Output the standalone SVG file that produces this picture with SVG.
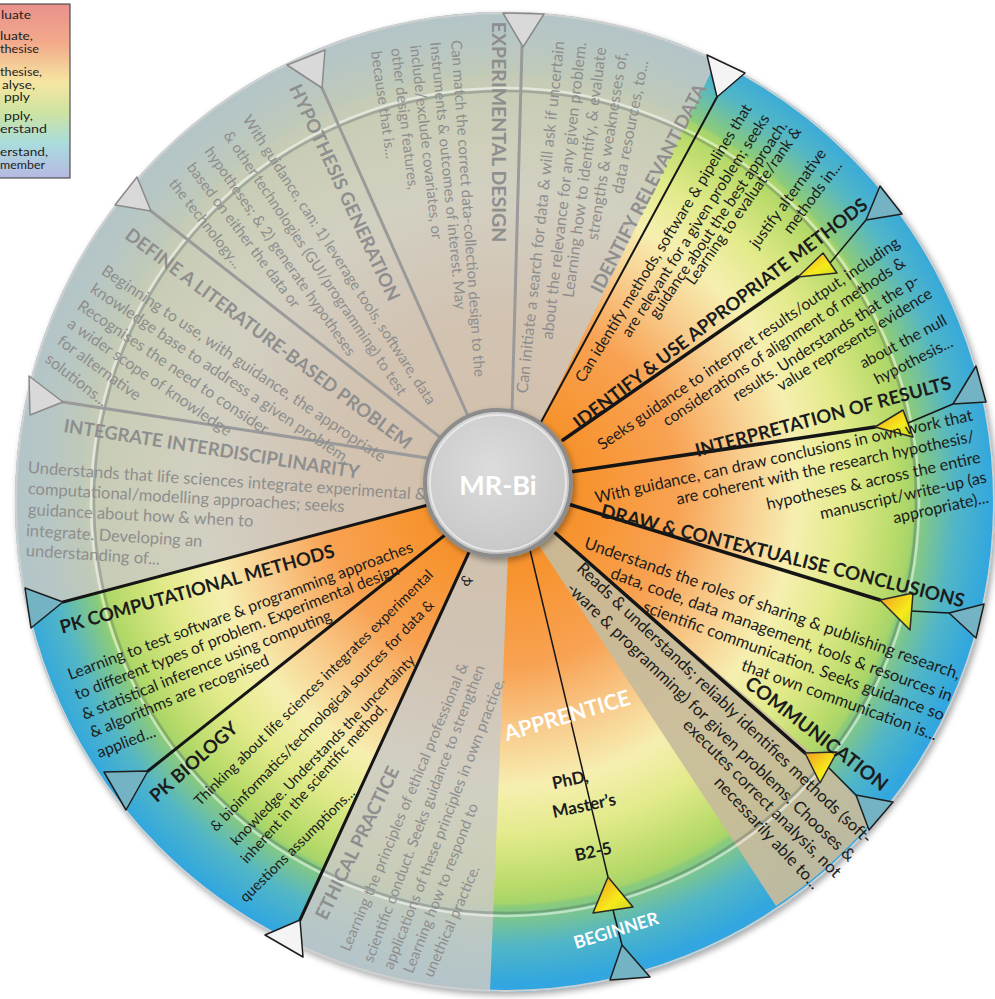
<svg xmlns="http://www.w3.org/2000/svg" width="995" height="999" viewBox="0 0 995 999">
<defs>
<radialGradient id="wheelGrad" gradientUnits="userSpaceOnUse" cx="500" cy="490" r="495">
<stop offset="0" stop-color="#f7932e"/>
<stop offset="0.17" stop-color="#f7932e"/>
<stop offset="0.36" stop-color="#f8a253"/>
<stop offset="0.5" stop-color="#f8cf90"/>
<stop offset="0.6" stop-color="#f6efb0"/>
<stop offset="0.7" stop-color="#e2ea8a"/>
<stop offset="0.8" stop-color="#b9db6a"/>
<stop offset="0.835" stop-color="#a6d46a"/>
<stop offset="0.842" stop-color="#8ccb7a"/>
<stop offset="0.92" stop-color="#52b6c6"/>
<stop offset="1" stop-color="#30a6e0"/>
</radialGradient>
<linearGradient id="legGrad" x1="0" y1="0" x2="0" y2="1">
<stop offset="0" stop-color="#e8918c"/>
<stop offset="0.22" stop-color="#f3a98a"/>
<stop offset="0.45" stop-color="#f6e6a2"/>
<stop offset="0.62" stop-color="#cfe3a0"/>
<stop offset="0.8" stop-color="#a9dcdc"/>
<stop offset="1" stop-color="#b7b9e2"/>
</linearGradient>
<linearGradient id="yelGrad" x1="0" y1="0" x2="1" y2="1">
<stop offset="0" stop-color="#f09a20"/>
<stop offset="0.6" stop-color="#f6ea1c"/>
<stop offset="1" stop-color="#c8d820"/>
</linearGradient>
<radialGradient id="hubGrad" cx="0.45" cy="0.4" r="0.65">
<stop offset="0" stop-color="#dcdcdc"/>
<stop offset="0.85" stop-color="#c9c9c9"/>
<stop offset="1" stop-color="#a8a8a8"/>
</radialGradient>
<filter id="shadow" x="-10%" y="-10%" width="120%" height="120%">
<feDropShadow dx="2" dy="3" stdDeviation="3" flood-color="#000" flood-opacity="0.35"/>
</filter>
</defs>
<style>
.t{font-family:Lato,'Open Sans','DejaVu Sans',sans-serif;dominant-baseline:central;}
.m{text-anchor:middle}.s{text-anchor:start}.e{text-anchor:end}
.dk{fill:#1c1c1c}
.gr{fill:#8e8e8e}
.tb{font-weight:bold;font-size:18.5px}
.wh{fill:#ffffff;font-weight:bold}
.leg{font-family:Lato,'Open Sans',sans-serif;font-size:11.5px;fill:#222}
.gl{stroke:#9a9a9a;stroke-width:3;fill:none;stroke-linecap:round}
.bl{stroke:#151515;stroke-width:3.5;fill:none;stroke-linecap:round}
.th{stroke:#151515;stroke-width:1.5;fill:none}
.tg{fill:#d9d9d9;stroke:#8a8a8a;stroke-width:1.5;stroke-linejoin:round}
.tc{fill:#74b3c4;stroke:#1e1e1e;stroke-width:1.5;stroke-linejoin:round}
.tw{fill:#f4f4f4;stroke:#1e1e1e;stroke-width:1.5;stroke-linejoin:round}
.ty{fill:url(#yelGrad);stroke:#2a2a2a;stroke-width:1.5;stroke-linejoin:round}
</style>

<g id="legend">
<rect x="-5" y="4" width="75" height="174" fill="url(#legGrad)" stroke="#333" stroke-width="1"/>
<text class="leg" x="1" y="19" textLength="30" lengthAdjust="spacingAndGlyphs">luate</text>
<text class="leg" x="0" y="40" textLength="33" lengthAdjust="spacingAndGlyphs">luate,</text>
<text class="leg" x="0" y="53" textLength="39" lengthAdjust="spacingAndGlyphs">thesise</text>
<text class="leg" x="0" y="76" textLength="42" lengthAdjust="spacingAndGlyphs">thesise,</text>
<text class="leg" x="2" y="89" textLength="33" lengthAdjust="spacingAndGlyphs">alyse,</text>
<text class="leg" x="4" y="101" textLength="26" lengthAdjust="spacingAndGlyphs">pply</text>
<text class="leg" x="4" y="120" textLength="29" lengthAdjust="spacingAndGlyphs">pply,</text>
<text class="leg" x="0" y="133" textLength="47" lengthAdjust="spacingAndGlyphs">erstand</text>
<text class="leg" x="0" y="156" textLength="48" lengthAdjust="spacingAndGlyphs">erstand,</text>
<text class="leg" x="0" y="169" textLength="45" lengthAdjust="spacingAndGlyphs">member</text>
</g>

<g id="wheel">
<circle cx="505" cy="502" r="490" fill="url(#wheelGrad)" filter="url(#shadow)"/>
<path id="grey-overlay" d="M498 483 L540 424 L717 60 A490 490 0 0 0 25 600 L63 602 L428 505 Z" fill="#cbc9c5" fill-opacity="0.84"/>
<path id="ethical-overlay" d="M498 483 L470 550 L300 920 L283 940 A490 490 0 0 0 490 992 L508 555 Z" fill="#cbc9c5" fill-opacity="0.86"/>
<path id="tan-overlay" d="M498 483 L553 531 L828 767 L875 818 A490 490 0 0 1 776 906 L546 556 Z" fill="#c7bb9b" fill-opacity="0.93"/>
<circle cx="505" cy="502" r="411" fill="none" stroke="#3c4a50" stroke-opacity="0.28" stroke-width="2.5"/>
<circle cx="505" cy="502" r="414" fill="none" stroke="#ffffff" stroke-opacity="0.5" stroke-width="2.5"/>
<circle cx="505" cy="502" r="489" fill="none" stroke="#d0d0d0" stroke-width="2"/>
</g>

<g id="connectors">
<path class="gl" d="M512 412 L522 47"/>
<path class="gl" d="M468 416 L322 88"/>
<path class="gl" d="M441 438 L151 211"/>
<path class="gl" d="M427 458 L63 402"/>
<path class="th" style="stroke-width:2" d="M540 424 L717 97"/>
<path class="bl" d="M563 440 L798 277"/>
<path class="th" d="M830 263 L866 220"/>
<path class="bl" d="M570 472 L875 427"/>
<path class="th" d="M908 423 L953 404"/>
<path class="bl" d="M568 504 L880 600"/>
<path class="th" d="M911 611 L949 613"/>
<path class="bl" d="M553 531 L805 753"/>
<path class="th" d="M828 767 L856 795"/>
<path class="th" d="M530 550 L608 877"/>
<path class="th" d="M613 910 L622 945"/>
<path class="bl" style="stroke-width:3" d="M470 550 L300 920"/>
<path class="bl" style="stroke-width:3" d="M445 535 L148 771"/>
<path class="bl" style="stroke-width:3" d="M428 505 L63 602"/>
<polygon class="tg" points="503,13 544,14 523,47"/>
<polygon class="tw" points="707,55 745,73 717,97"/>
<polygon class="tg" points="287,65 325,50 322,88"/>
<polygon class="tg" points="137,177 115,205 151,211"/>
<polygon class="tg" points="29,376 30,415 63,402"/>
<polygon class="tc" points="25,588 31,628 63,602"/>
<polygon class="tc" points="104,772 126,810 148,771"/>
<polygon class="tw" points="265,935 303,957 300,920"/>
<polygon class="tc" points="610,980 650,977 622,945"/>
<polygon class="tc" points="902,214 880,186 866,220"/>
<polygon class="tc" points="986,402 976,366 953,404"/>
<polygon class="tc" points="984,604 976,638 949,613"/>
<polygon class="tc" points="893,802 869,830 856,795"/>
<polygon class="ty" points="798,277 837,273 823,253"/>
<polygon class="ty" points="875,427 913,437 903,410"/>
<polygon class="ty" points="880,600 913,593 910,630"/>
<polygon class="ty" points="805,753 837,752 820,783"/>
<polygon class="ty" points="608,877 593,913 633,907"/>
</g>

<g id="node-identify-relevant-data" style="font-size:16px">
<text class="t tb gr m" transform="translate(648 188) rotate(-63)">IDENTIFY RELEVANT DATA</text>
<text class="t gr e" transform="translate(558 41) rotate(-84)">Can initiate a search for data &amp; will ask if uncertain</text>
<text class="t gr e" transform="translate(580 42) rotate(-83.5)">about the relevance for any given problem.</text>
<text class="t gr e" transform="translate(600 47) rotate(-82.5)">Learning how to identify, &amp; evaluate</text>
<text class="t gr e" transform="translate(621 52) rotate(-81)">strengths &amp; weaknesses of,</text>
<text class="t gr e" transform="translate(642 60) rotate(-79)">data resources, to...</text>
</g>

<g id="node-experimental-design" style="font-size:15px">
<text class="t tb gr m" style="font-size:19.5px" transform="translate(499 132) rotate(90)">EXPERIMENTAL DESIGN</text>
<text class="t gr s" transform="translate(457 40) rotate(86)">Can match the correct data-collection design to the</text>
<text class="t gr s" transform="translate(436 42) rotate(84.5)">Instruments &amp; outcomes of interest. May</text>
<text class="t gr s" transform="translate(416 45) rotate(83.5)">include/exclude covariates, or</text>
<text class="t gr s" transform="translate(397 48) rotate(83)">other design features,</text>
<text class="t gr s" transform="translate(377 51) rotate(82)">because that is...</text>
</g>

<g id="node-hypothesis-generation" style="font-size:15px">
<text class="t tb gr s" transform="translate(295 85) rotate(65)">HYPOTHESIS GENERATION</text>
<text class="t gr s" transform="translate(247 116) rotate(57)">With guidance, can: 1) leverage tools, software, data</text>
<text class="t gr s" transform="translate(228 132) rotate(56)">&amp; other technologies (GUI/programming) to test</text>
<text class="t gr s" transform="translate(209 148) rotate(55)">hypotheses; &amp; 2) generate hypotheses</text>
<text class="t gr s" transform="translate(191 164) rotate(53)">based on either the data or</text>
<text class="t gr s" transform="translate(173 180) rotate(52)">the technology...</text>
</g>

<g id="node-define-literature-problem" style="font-size:16px">
<text class="t tb gr s" transform="translate(128 232) rotate(37)">DEFINE A LITERATURE-BASED PROBLEM</text>
<text class="t gr s" transform="translate(104 268) rotate(34)">Beginning to use, with guidance, the appropriate</text>
<text class="t gr s" transform="translate(93 286) rotate(34)">knowledge base to address a given problem.</text>
<text class="t gr s" transform="translate(80 303) rotate(34)">Recognises the need to consider</text>
<text class="t gr s" transform="translate(70 321) rotate(34.5)">a wider scope of knowledge</text>
<text class="t gr s" transform="translate(60 338) rotate(36)">for alternative</text>
<text class="t gr s" transform="translate(48 356) rotate(38)">solutions...</text>
</g>

<g id="node-integrate-interdisciplinarity" style="font-size:16.5px">
<text class="t tb gr s" transform="translate(64 425) rotate(9)">INTEGRATE INTERDISCIPLINARITY</text>
<text class="t gr s" transform="translate(28 467) rotate(3.9)">Understands that life sciences  integrate experimental &amp;</text>
<text class="t gr s" transform="translate(28 488) rotate(3.3)">computational/modelling approaches; seeks</text>
<text class="t gr s" transform="translate(28 509) rotate(3)">guidance about how &amp; when to</text>
<text class="t gr s" transform="translate(26 530) rotate(3.5)">integrate. Developing an</text>
<text class="t gr s" transform="translate(26 550) rotate(3.7)">understanding of...</text>
</g>

<g id="node-pk-computational-methods" style="font-size:15.8px">
<text class="t tb dk s" transform="translate(60 627) rotate(-15.7)">PK COMPUTATIONAL METHODS</text>
<text class="t dk s" transform="translate(68 674) rotate(-20.5)">Learning to test software &amp; programming approaches</text>
<text class="t dk s" transform="translate(75 694) rotate(-21.3)">to different types of problem. Experimental design</text>
<text class="t dk s" transform="translate(82 714) rotate(-22)">&amp; statistical inference using computing</text>
<text class="t dk s" transform="translate(90 732) rotate(-22.5)">&amp; algorithms are recognised</text>
<text class="t dk s" transform="translate(97 752) rotate(-21)">applied...</text>
</g>

<g id="node-pk-biology" style="font-size:14.5px">
<text class="t tb dk s" transform="translate(152 798) rotate(-41.5)">PK BIOLOGY</text>
<text class="t dk e" transform="translate(430 572) rotate(-44.6)">Thinking about life sciences integrates experimental</text>
<text class="t dk e" transform="translate(431 602) rotate(-46)">&amp; bioinformatics/technological sources for data &amp;</text>
<text class="t dk e" transform="translate(412 657) rotate(-46)">knowledge. Understands  the uncertainty</text>
<text class="t dk e" transform="translate(383 705) rotate(-48)">inherent in the scientific method,</text>
<text class="t dk e" transform="translate(352 790) rotate(-44.7)">questions assumptions...</text>
<text class="t dk m" transform="translate(466 580) rotate(-45)">&amp;</text>
</g>

<g id="node-ethical-practice" style="font-size:15px">
<text class="t tb gr s" transform="translate(320 918) rotate(-64)">ETHICAL PRACTICE</text>
<text class="t gr s" transform="translate(344 950) rotate(-67.5)">Learning the principles of ethical professional &amp;</text>
<text class="t gr s" transform="translate(367 961) rotate(-69.2)">scientific conduct. Seeks guidance to strengthen</text>
<text class="t gr s" transform="translate(387 968) rotate(-68.8)">applications of these principles in own practice.</text>
<text class="t gr s" transform="translate(407 972) rotate(-68.7)">Learning how to respond to</text>
<text class="t gr s" transform="translate(427 976) rotate(-66.7)">unethical practice.</text>
</g>

<g id="node-identify-use-methods" style="font-size:15.5px">
<text class="t tb dk m" transform="translate(720 313) rotate(-37.5)">IDENTIFY &amp; USE APPROPRIATE METHODS</text>
<text class="t dk e" transform="translate(747 105) rotate(-58.5)">Can identify methods, software &amp; pipelines that</text>
<text class="t dk e" transform="translate(765 115) rotate(-57.5)">are relevant for a given problem; seeks</text>
<text class="t dk e" transform="translate(783 122) rotate(-56)">guidance about the best approach.</text>
<text class="t dk e" transform="translate(797 128) rotate(-55)">Learning to evaluate/rank &amp;</text>
<text class="t dk e" transform="translate(822 150) rotate(-54)">justify alternative</text>
<text class="t dk e" transform="translate(838 162) rotate(-53)">methods in...</text>
</g>

<g id="node-interpretation-results" style="font-size:15.8px">
<text class="t tb dk m" transform="translate(823 416) rotate(-15)">INTERPRETATION OF RESULTS</text>
<text class="t dk e" transform="translate(897 240) rotate(-34.5)">Seeks guidance to interpret results/output, including</text>
<text class="t dk e" transform="translate(903 260) rotate(-34)">considerations of alignment of methods &amp;</text>
<text class="t dk e" transform="translate(917 277) rotate(-33)">results. Understands that the p-</text>
<text class="t dk e" transform="translate(930 291) rotate(-32)">value represents evidence</text>
<text class="t dk e" transform="translate(945 318) rotate(-28)">about the null</text>
<text class="t dk e" transform="translate(951 340) rotate(-27)">hypothesis...</text>
</g>

<g id="node-draw-conclusions" style="font-size:16.2px">
<text class="t tb dk m" style="font-size:19px" transform="translate(783 555) rotate(14)">DRAW &amp; CONTEXTUALISE CONCLUSIONS</text>
<text class="t dk e" transform="translate(972 414) rotate(-12.4)">With guidance, can draw conclusions in own work that</text>
<text class="t dk e" transform="translate(974 435) rotate(-12)">are coherent with the research hypothesis/</text>
<text class="t dk e" transform="translate(980 456) rotate(-12.5)">hypotheses &amp; across the entire</text>
<text class="t dk e" transform="translate(986 476) rotate(-12.5)">manuscript/write-up (as</text>
<text class="t dk e" transform="translate(988 496) rotate(-12.5)">appropriate)...</text>
</g>

<g id="node-communication" style="font-size:16.5px">
<text class="t tb dk m" style="font-size:19.5px" transform="translate(817 733) rotate(37.6)">COMMUNICATION</text>
<text class="t dk e" transform="translate(960 674) rotate(19.4)">Understands the roles of sharing &amp; publishing research,</text>
<text class="t dk e" transform="translate(952 696) rotate(20)">data, code, data management, tools &amp; resources in</text>
<text class="t dk e" transform="translate(944 715) rotate(20)">scientific communication. Seeks guidance so</text>
<text class="t dk e" transform="translate(937 735) rotate(20)">that own communication is...</text>
</g>

<g id="node-methods-software" style="font-size:16.8px">
<text class="t dk e" transform="translate(870 840) rotate(43.5)">Reads &amp; understands; reliably identifies methods (soft-</text>
<text class="t dk e" transform="translate(853 858) rotate(44)">-ware &amp; programming) for given problems. Chooses &amp;</text>
<text class="t dk e" transform="translate(839 874) rotate(45)">executes correct analysis, not</text>
<text class="t dk e" transform="translate(818 886) rotate(47)">necessarily able to...</text>
</g>

<g id="node-apprentice">
<text class="t wh m" style="font-size:21.5px" transform="translate(567 715) rotate(-16.5)">APPRENTICE</text>
<text class="t dk m" style="font-weight:bold;font-size:17px" transform="translate(570 779) rotate(-12)">PhD,</text>
<text class="t dk m" style="font-weight:bold;font-size:17px" transform="translate(584 805) rotate(-12)">Master’s</text>
<text class="t dk m" style="font-weight:bold;font-size:17px" transform="translate(593 851) rotate(-12)">B2-5</text>
<text class="t wh m" style="font-size:17.5px" transform="translate(616 930) rotate(-17)">BEGINNER</text>
</g>

<g id="node-hub">
<circle cx="498" cy="483" r="73" fill="url(#hubGrad)" stroke="#8c8c8c" stroke-width="4" filter="url(#shadow)"/>
<circle cx="498" cy="483" r="68" fill="none" stroke="#f2f2f2" stroke-opacity="0.7" stroke-width="2"/>
<text class="t wh m" style="font-size:27px" x="498" y="484">MR-Bi</text>
</g>
</svg>
